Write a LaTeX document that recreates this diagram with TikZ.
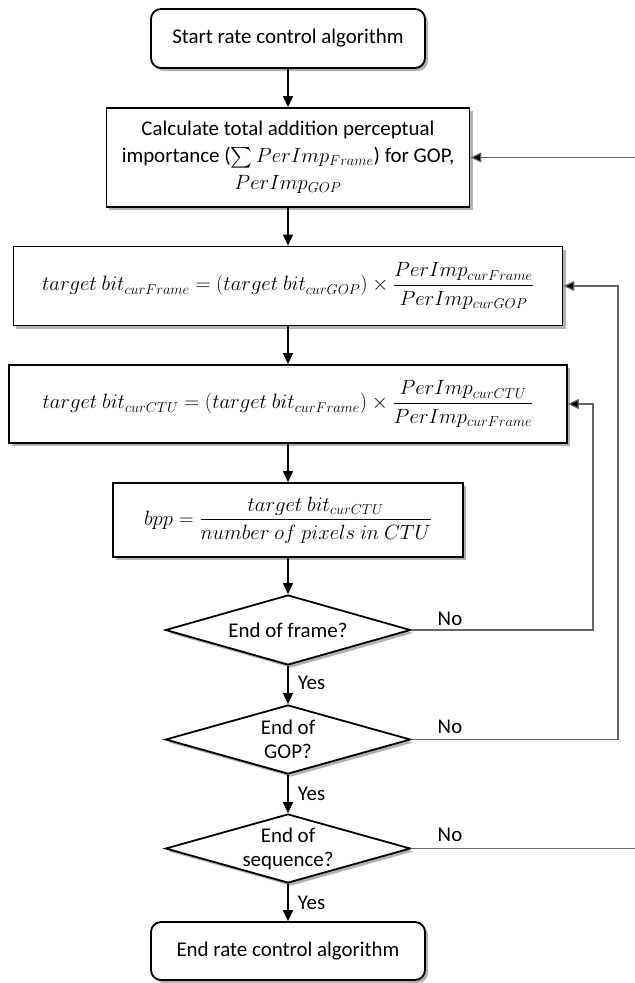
\documentclass[tikz,border=0pt]{standalone}
\usepackage{amsmath}
\usepackage[no-math]{fontspec}
\setmainfont{Carlito}
\usetikzlibrary{arrows.meta,shapes.geometric,shadows}
\begin{document}
\begin{tikzpicture}[x=1bp,y=-1bp,
  font=\fontsize{21}{27}\selectfont,
  shad/.style={drop shadow={shadow xshift=3bp,shadow yshift=-3bp,opacity=0.3,fill=black}},
  box/.style={draw, line width=1.8bp, fill=white, inner sep=0pt, align=center, shad},
  term/.style={box, rounded corners=10bp},
  mathbox/.style={box, font=\fontsize{22}{27}\selectfont},
  dia/.style={draw, diamond, line width=1.8bp, fill=white, inner sep=0pt, shad},
  dlab/.style={align=center, font=\fontsize{21}{24}\selectfont},
  arr/.style={line width=1.2bp, -{Triangle[length=11bp,width=10bp]}},
  loopline/.style={line width=1.2bp, draw=black!60, -{Triangle[length=11bp,width=10bp,fill=black]}},
  lab/.style={font=\fontsize{21}{24}\selectfont}]
\useasboundingbox (0,0) rectangle (635,983);
\fill[white] (0,0) rectangle (635,983);

\node[term, minimum width=274bp, minimum height=59bp] (start) at (288,38.5) {Start rate control algorithm};
\node[box, minimum width=363bp, minimum height=99bp] (calc) at (288,157.5)
  {Calculate total addition perceptual\\importance ($\sum PerImp_{Frame}$) for GOP,\\$PerImp_{GOP}$};
\node[mathbox, minimum width=549bp, minimum height=79bp] (frm) at (288,286)
  {$target\ bit_{curFrame} = (target\ bit_{curGOP}) \times \dfrac{PerImp_{curFrame}}{PerImp_{curGOP}}$};
\node[mathbox, minimum width=558bp, minimum height=78bp] (ctu) at (288,404)
  {$target\ bit_{curCTU} = (target\ bit_{curFrame}) \times \dfrac{PerImp_{curCTU}}{PerImp_{curFrame}}$};
\node[mathbox, minimum width=350bp, minimum height=74bp] (bpp) at (288,520)
  {$bpp = \dfrac{target\ bit_{curCTU}}{number\ of\ pixels\ in\ CTU}$};
\node[dia, minimum width=245bp, minimum height=70bp, label={[dlab]center:End of frame?}] (d1) at (288,630) {};
\node[dia, minimum width=245bp, minimum height=69bp, label={[dlab]center:End of\\GOP?}] (d2) at (288,739.5) {};
\node[dia, minimum width=245bp, minimum height=69bp, label={[dlab]center:End of\\sequence?}] (d3) at (288,848.5) {};
\node[term, minimum width=274bp, minimum height=58bp] (end) at (288,951) {End rate control algorithm};

\coordinate (c1) at (593,0);
\coordinate (c2) at (618,0);
\coordinate (c3) at (645,0);

\draw[arr] (start) -- (calc);
\draw[arr] (calc) -- (frm);
\draw[arr] (frm) -- (ctu);
\draw[arr] (ctu) -- (bpp);
\draw[arr] (bpp) -- (d1);
\draw[arr] (d1) -- node[lab, anchor=west, xshift=6bp, yshift=2bp] (y1) {Yes} (d2);
\draw[arr] (d2) -- node[lab, anchor=west, xshift=6bp] (y2) {Yes} (d3);
\draw[arr] (d3) -- node[lab, anchor=west, xshift=6bp] (y3) {Yes} (end);

\draw[loopline] (d1.east) -- (d1.east -| c1) |- (ctu.east);
\draw[loopline] (d2.east) -- (d2.east -| c2) |- (frm.east);
\draw[loopline] (d3.east) -- (d3.east -| c3) |- (calc.east);

\node[lab] (n1) at (450,619) {No};
\node[lab] (n2) at (450,727) {No};
\node[lab] (n3) at (450,835) {No};
\end{tikzpicture}
\end{document}
